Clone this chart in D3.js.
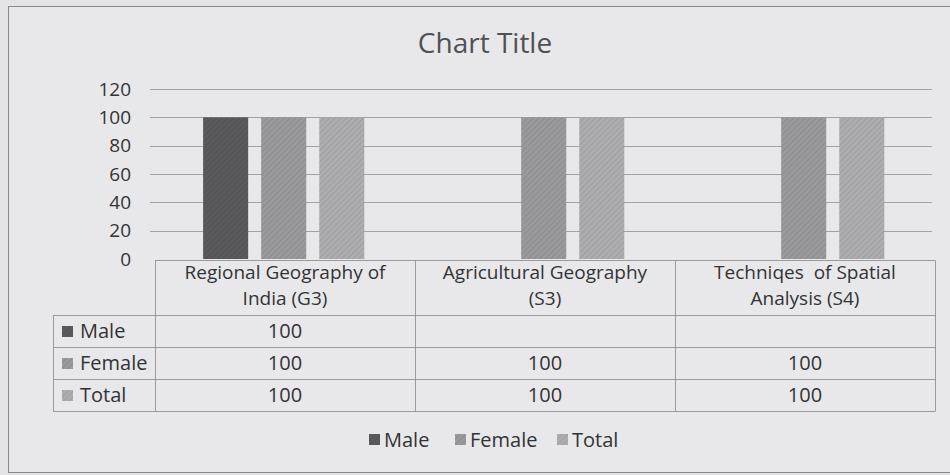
<!DOCTYPE html>
<html>
<head>
<meta charset="utf-8">
<script src="https://cdn.jsdelivr.net/npm/d3@7"></script>
<style>
    html, body { margin: 0; padding: 0; background: #e4e4e6; }
    svg { display: block; font-family: "Open Sans", "Noto Sans", sans-serif; }
</style>
</head>
<body>
<script>
/*global d3*/

var categories = [
    ["Regional Geography of", "India (G3)"],
    ["Agricultural Geography", "(S3)"],
    ["Techniqes  of Spatial", "Analysis (S4)"]
];
var seriesNames = ["Male", "Female", "Total"];
var maleValues = [100, null, null];
var femaleValues = [100, 100, 100];
var totalValues = [100, 100, 100];
var yTicks = [0, 20, 40, 60, 80, 100, 120];

var seriesValues = [maleValues, femaleValues, totalValues];
var seriesColors = ["#5a5a5d", "#9a9a9d", "#adadb0"];
var textColor = "#333335";

var width = 950,
    height = 475;

var svg = d3.select("body").append("svg")
    .attr("width", width)
    .attr("height", height);

/** Hatched fills, like the printed bars **/
var defs = svg.append("defs");
seriesColors.forEach(function (c, i) {
    var p = defs.append("pattern")
        .attr("id", "hatch" + i)
        .attr("patternUnits", "userSpaceOnUse")
        .attr("width", 4)
        .attr("height", 4)
        .attr("patternTransform", "rotate(45)");
    p.append("rect").attr("width", 4).attr("height", 4).attr("fill", c);
    p.append("line")
        .attr("x1", 0).attr("y1", 0).attr("x2", 0).attr("y2", 4)
        .attr("stroke", d3.color(c).darker(0.35))
        .attr("stroke-width", 1.5);
});

/** Chart frame **/
svg.append("rect")
    .attr("x", 8.5).attr("y", 6.5)
    .attr("width", 960).attr("height", 466)
    .attr("fill", "#e8e8ea")
    .attr("stroke", "#8a8a8c");

svg.append("text")
    .attr("x", 485).attr("y", 53)
    .attr("text-anchor", "middle")
    .attr("font-size", 28)
    .attr("fill", "#505052")
    .text("Chart Title");

var x0 = d3.scaleBand()
    .domain(d3.range(categories.length))
    .range([155, 935]);

var x1 = d3.scaleBand()
    .domain(seriesNames)
    .range([x0.bandwidth() * 0.185, x0.bandwidth() * 0.805])
    .paddingInner(0.224);

var y = d3.scaleLinear()
    .domain([0, 120])
    .range([259, 89]);

/** Gridlines and y ticks **/
svg.append("g")
    .selectAll("line")
    .data(yTicks.filter(function (t) { return t > 0; }))
    .join("line")
    .attr("x1", 150).attr("x2", 932)
    .attr("y1", function (d) { return Math.round(y(d)) + 0.5; })
    .attr("y2", function (d) { return Math.round(y(d)) + 0.5; })
    .attr("stroke", "#a2a2a4");

svg.append("g")
    .selectAll("text")
    .data(yTicks)
    .join("text")
    .attr("x", 131)
    .attr("y", function (d) { return y(d); })
    .attr("dy", "0.35em")
    .attr("text-anchor", "end")
    .attr("font-size", 19)
    .attr("fill", textColor)
    .text(function (d) { return d; });

/** Bars **/
seriesNames.forEach(function (name, s) {
    svg.append("g")
        .selectAll("rect")
        .data(seriesValues[s].map(function (v, i) { return { v: v, i: i }; })
            .filter(function (d) { return d.v !== null; }))
        .join("rect")
        .attr("x", function (d) { return x0(d.i) + x1(name); })
        .attr("width", x1.bandwidth())
        .attr("y", function (d) { return y(d.v); })
        .attr("height", function (d) { return y(0) - y(d.v); })
        .attr("fill", "url(#hatch" + s + ")");
});

/** Data table **/
var headTop = 260, headBottom = 315, rowH = 32, tableLeft = 53;
var tbl = svg.append("g")
    .attr("stroke", "#9a9a9c")
    .attr("fill", "none");

tbl.append("path")
    .attr("d", "M155.5," + headTop + "V" + (headBottom + rowH * 3) +
        "M155.5," + headTop + ".5H935.5V" + (headBottom + rowH * 3));

x0.domain().forEach(function (i) {
    if (i > 0) {
        tbl.append("line")
            .attr("x1", x0(i) + 0.5).attr("x2", x0(i) + 0.5)
            .attr("y1", headTop).attr("y2", headBottom + rowH * 3);
    }
});

d3.range(4).forEach(function (r) {
    tbl.append("line")
        .attr("x1", tableLeft).attr("x2", 935.5)
        .attr("y1", headBottom + r * rowH + 0.5)
        .attr("y2", headBottom + r * rowH + 0.5);
});
tbl.append("line")
    .attr("x1", tableLeft + 0.5).attr("x2", tableLeft + 0.5)
    .attr("y1", headBottom).attr("y2", headBottom + rowH * 3);

categories.forEach(function (lines, i) {
    var t = svg.append("text")
        .attr("text-anchor", "middle")
        .attr("font-size", 19)
        .attr("fill", textColor);
    lines.forEach(function (l, k) {
        t.append("tspan")
            .attr("x", x0(i) + x0.bandwidth() / 2)
            .attr("y", 279 + k * 26)
            .attr("xml:space", "preserve")
            .text(l);
    });
});

seriesNames.forEach(function (name, s) {
    var cy = headBottom + s * rowH + rowH / 2;
    svg.append("rect")
        .attr("x", 62).attr("y", cy - 5)
        .attr("width", 11).attr("height", 11)
        .attr("fill", "url(#hatch" + s + ")");
    svg.append("text")
        .attr("x", 80).attr("y", cy)
        .attr("dy", "0.35em")
        .attr("font-size", 20)
        .attr("fill", textColor)
        .text(name);
    seriesValues[s].forEach(function (v, i) {
        if (v === null) return;
        svg.append("text")
            .attr("x", x0(i) + x0.bandwidth() / 2)
            .attr("y", cy)
            .attr("dy", "0.35em")
            .attr("text-anchor", "middle")
            .attr("font-size", 20)
            .attr("fill", textColor)
            .text(v);
    });
});

/** Legend **/
var legendX = [369, 455, 557];
seriesNames.forEach(function (name, s) {
    svg.append("rect")
        .attr("x", legendX[s]).attr("y", 434)
        .attr("width", 11).attr("height", 11)
        .attr("fill", "url(#hatch" + s + ")");
    svg.append("text")
        .attr("x", legendX[s] + 15).attr("y", 440)
        .attr("dy", "0.35em")
        .attr("font-size", 20)
        .attr("fill", textColor)
        .text(name);
});
</script>
</body>
</html>
